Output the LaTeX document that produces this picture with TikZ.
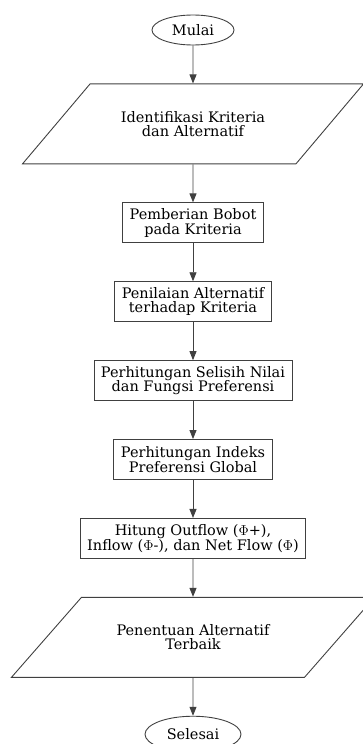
\documentclass[tikz,border=0pt]{standalone}
\usepackage{fontspec}
\setmainfont{DejaVu Serif}
\usetikzlibrary{shapes.geometric, arrows.meta, positioning}

\begin{document}
\begin{tikzpicture}[
    node distance=38pt,
    >={Triangle[length=9pt,width=7pt]},
    every node/.style={align=center, font=\fontsize{14.5}{14.5}\selectfont}
]
    % Define styles
    \tikzstyle{terminal} = [ellipse, draw=black!75, line width=0.9pt, inner sep=0pt, minimum height=30pt]
    \tikzstyle{io} = [trapezium, trapezium stretches body=true, draw=black!75, line width=0.9pt, inner xsep=4pt, inner ysep=26pt, minimum height=80pt]
    \tikzstyle{process} = [rectangle, draw=black!75, line width=0.9pt, inner xsep=7pt, minimum height=40pt]
    \tikzstyle{arrow} = [draw=black!75, line width=0.9pt, ->]

    \useasboundingbox (0pt,0pt) rectangle (363pt,-744pt);

    % Start
    \node [terminal, minimum width=82pt] (mulai) at (193pt,-30pt) {Mulai};

    % Input
    \node [io, trapezium left angle=49, trapezium right angle=131, minimum width=341pt, below=of mulai] (identifikasi) {Identifikasi Kriteria\\ dan Alternatif};

    % Process steps
    \node [process, below=of identifikasi] (bobot) {Pemberian Bobot\\pada Kriteria};
    \node [process, below=of bobot] (penilaian) {Penilaian Alternatif\\terhadap Kriteria};
    \node [process, below=of penilaian] (selisih) {Perhitungan Selisih Nilai\\ dan Fungsi Preferensi};
    \node [process, below=of selisih] (indeks) {Perhitungan Indeks\\Preferensi Global};
    \node [process, below=of indeks] (flow) {Hitung Outflow ($\Phi$+),\\Inflow ($\Phi$-), dan Net Flow ($\Phi$)};

    % Output
    \node [io, trapezium left angle=48, trapezium right angle=132, minimum width=363pt, below=of flow] (terbaik) {Penentuan Alternatif\\Terbaik};

    % End
    \node [terminal, minimum width=96pt, minimum height=36pt, below=of terbaik] (selesai) {Selesai};

    % Arrows
    \draw [arrow] (mulai) -- (identifikasi);
    \draw [arrow] (identifikasi) -- (bobot);
    \draw [arrow] (bobot) -- (penilaian);
    \draw [arrow] (penilaian) -- (selisih);
    \draw [arrow] (selisih) -- (indeks);
    \draw [arrow] (indeks) -- (flow);
    \draw [arrow] (flow) -- (terbaik);
    \draw [arrow] (terbaik) -- (selesai);

\end{tikzpicture}
\end{document}
